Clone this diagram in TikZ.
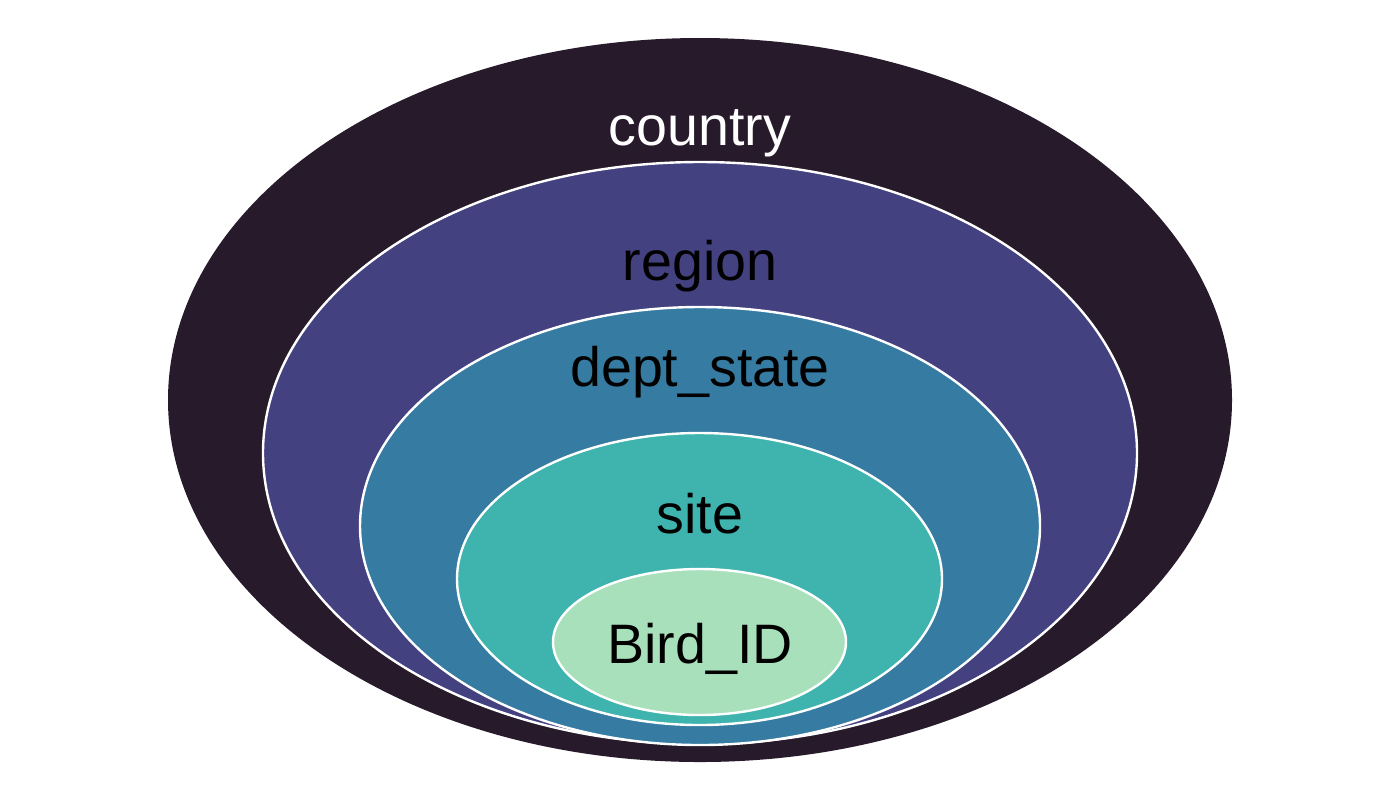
\documentclass[tikz,border=0pt]{standalone}
\usepackage{fontspec}
\setmainfont{Liberation Sans}
\usetikzlibrary{shapes.geometric}
\definecolor{cCountry}{HTML}{271A2B}
\definecolor{cRegion}{HTML}{43417F}
\definecolor{cDept}{HTML}{367BA2}
\definecolor{cSite}{HTML}{3FB3AE}
\definecolor{cBird}{HTML}{A9E0BC}
\tikzset{
  level/.style={ellipse, draw=white, line width=1.2pt, inner sep=0pt},
  lab/.style={anchor=base, inner sep=0pt, font=\fontsize{27.8}{30}\selectfont}
}
\begin{document}
\begin{tikzpicture}[x=0.5pt,y=-0.5pt]
\useasboundingbox[fill=white] (0,0) rectangle (1400,800);
\node[level, draw=none, fill=cCountry, minimum width=532pt, minimum height=362pt] (country) at (700,400) {};
\node[level, fill=cRegion, minimum width=437pt, minimum height=291pt] (region) at (700,453) {};
\node[level, fill=cDept, minimum width=340pt, minimum height=219pt] (dept) at (700,526) {};
\node[level, fill=cSite, minimum width=242.5pt, minimum height=146pt] (site) at (699.5,579) {};
\node[level, fill=cBird, minimum width=146.5pt, minimum height=73pt] (bird) at (699.5,642) {};
\node[lab, text=white] (tcountry) at (700,145) {country};
\node[lab] (tregion) at (700,280) {region};
\node[lab] (tdept) at (700,386) {dept\_state};
\node[lab] (tsite) at (700,533) {site};
\node[lab] (tbird) at (700,663) {Bird\_ID};
\end{tikzpicture}
\end{document}
